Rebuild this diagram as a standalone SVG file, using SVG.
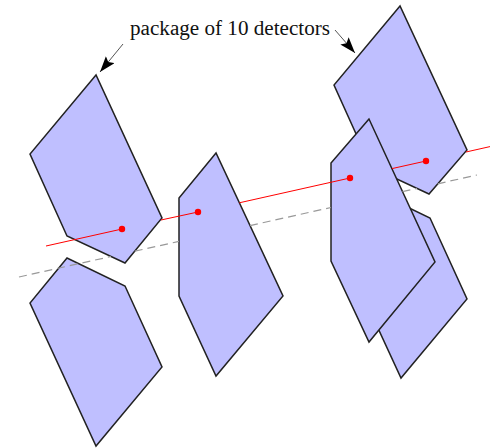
<svg xmlns="http://www.w3.org/2000/svg" width="490" height="448" viewBox="0 0 490 448">
<defs>
<style>
.det{fill:#bfbfff;stroke:#222;stroke-width:1.5;stroke-linejoin:miter}
.beam{stroke:#ff0000;stroke-width:1;fill:none}
.axis{stroke:#999;stroke-width:1.2;stroke-dasharray:8 5;fill:none}
.lead{stroke:#555;stroke-width:1;fill:none;marker-end:url(#head)}
.dot{fill:#ff0000}
.lbl{font-family:"Liberation Serif","DejaVu Serif",serif;font-size:20px;fill:#111}
</style>
<marker id="head" markerUnits="userSpaceOnUse" markerWidth="18" markerHeight="12" refX="16" refY="5.5" orient="auto">
<path d="M0,0 L16,5.5 L0,11 L3,5.5 Z" fill="#000"/>
</marker>
</defs>
<rect width="490" height="448" fill="#fff"/>
<g id="detector-lower-left"><polygon class="det" points="67,258 30,303 96,446 162,367 125,286"/></g>
<g id="detector-top-right"><polygon class="det" points="400,6 334,85 371,167 429,194 467,150"/></g>
<g id="detector-lower-right"><polygon class="det" points="372,190 335,235 401,378 467,299 430,218"/></g>
<g id="detector-front-right"><polygon class="det" points="369,119 331,163 331,261 369,342 435,262"/></g>
<g id="detector-middle"><polygon class="det" points="216,153 179,198 179,296 216,376 283,296"/></g>
<g id="detector-top-left"><polygon class="det" points="96,75 30,154 67,236 125,263 162,218"/></g>
<g id="connectors">
<path class="axis" d="M19,277 L111,256.5 M134.7,251.2 L179,241.4 M250,225.6 L331,207.5 M402.5,191.6 L417,188.4 M437.7,183.8 L477,175"/>
<path class="beam" d="M46,246 L122,229 M161,220 L198,212 M239.3,202.8 L350,178 M392,168.6 L426,161 M466,152 L490,146.6"/>
<path class="lead" d="M123,44 L100,72"/>
<path class="lead" d="M335,30 L355,53"/>
</g>
<g id="points">
<circle class="dot" cx="122" cy="229" r="3.2"/>
<circle class="dot" cx="198" cy="212" r="3.2"/>
<circle class="dot" cx="350" cy="178" r="3.2"/>
<circle class="dot" cx="426" cy="161" r="3.2"/>
</g>
<g id="label"><text class="lbl" x="130" y="35" textLength="200" lengthAdjust="spacingAndGlyphs">package of 10 detectors</text></g>
</svg>
